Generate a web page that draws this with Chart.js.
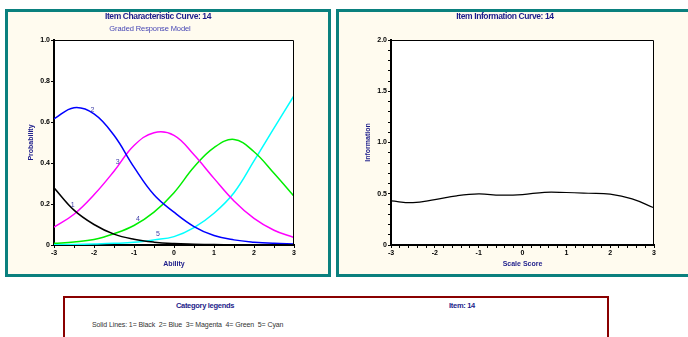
<!DOCTYPE html>
<html lang="en">
<head>
  <meta charset="UTF-8" />
  <title>Item 14 - ICC and Information</title>
  <script src="https://cdn.jsdelivr.net/npm/chart.js"></script>
  <style>
    body {
      margin: 0;
      width: 688px;
      height: 337px;
      overflow: hidden;
      background: #fff;
      font-family: 'Liberation Sans', Arial, sans-serif;
      position: relative;
    }
    .panel {
      position: absolute;
      top: 9px;
      height: 262px;
      border: 3px solid #0a807e;
      background: #fffbef;
    }
    .panel canvas {
      position: absolute;
      left: 0;
      top: 0;
    }
    .label {
      position: absolute;
      white-space: nowrap;
      transform: translate(-50%, -50%);
      line-height: 1;
    }
    .head {
      font-size: 8.5px;
      font-weight: bold;
      color: #1c1c8a;
      letter-spacing: -0.4px;
    }
    .sub {
      font-size: 7.5px;
      color: #4646b4;
      letter-spacing: -0.1px;
    }
    #legendBox {
      position: absolute;
      left: 63px;
      top: 296px;
      width: 542px;
      height: 60px;
      border: 2px solid #8a0000;
      background: #fff;
    }
    .legendHead {
      font-size: 7.5px;
      font-weight: bold;
      color: #1c1c8a;
      letter-spacing: -0.3px;
    }
    .legendText {
      font-size: 7px;
      color: #333;
      letter-spacing: -0.1px;
      transform: translate(0, -50%);
    }
  </style>
</head>
<body>

  <div class="panel" style="left:5px; width:320px;">
    <canvas id="icc" width="320" height="262"></canvas>
  </div>
  <div class="panel" style="left:336px; width:360px;">
    <canvas id="info" width="360" height="262"></canvas>
  </div>

  <div class="label head" style="left:158px; top:15.5px;">Item Characteristic Curve: 14</div>
  <div class="label sub" style="left:150px; top:28.5px;">Graded Response Model</div>
  <div class="label head" style="left:505px; top:15.5px;">Item Information Curve: 14</div>

  <div id="legendBox"></div>
  <div class="label legendHead" style="left:205px; top:305.5px;">Category legends</div>
  <div class="label legendHead" style="left:462px; top:305.5px;">Item: 14</div>
  <div class="label legendText" style="left:92px; top:324px;">Solid Lines: 1= Black&nbsp; 2= Blue&nbsp; 3= Magenta&nbsp; 4= Green&nbsp; 5= Cyan</div>

  <script>
    // theta grid shared by both plots
    const ability = [-3, -2.5, -2, -1.5, -1, -0.5, 0, 0.5, 1, 1.5, 2, 2.5, 3];

    // category response probabilities
    const cat1 = [0.279, 0.17, 0.1, 0.053, 0.028, 0.014, 0.007, 0.004, 0.002, 0.001, 0.001, 0, 0];
    const cat2 = [0.615, 0.67, 0.64, 0.535, 0.38, 0.245, 0.16, 0.09, 0.046, 0.025, 0.014, 0.008, 0.005];
    const cat3 = [0.087, 0.15, 0.245, 0.36, 0.485, 0.548, 0.535, 0.44, 0.325, 0.215, 0.13, 0.072, 0.036];
    const cat4 = [0.008, 0.015, 0.027, 0.055, 0.095, 0.16, 0.255, 0.38, 0.475, 0.515, 0.455, 0.35, 0.238];
    const cat5 = [0.002, 0.003, 0.005, 0.008, 0.013, 0.025, 0.041, 0.085, 0.155, 0.255, 0.41, 0.57, 0.728];

    // item information
    const information = [0.43, 0.413, 0.443, 0.48, 0.498, 0.486, 0.492, 0.514, 0.512, 0.505, 0.496, 0.45, 0.363];

    // where the category numbers sit on the curves (ability, probability)
    const curveTags = [
      ['1', -2.53, 0.197],
      ['2', -2.04, 0.658],
      ['3', -1.41, 0.403],
      ['4', -0.9, 0.127],
      ['5', -0.4, 0.052]
    ];

    const categories = [
      { data: cat1, color: '#000000' },
      { data: cat2, color: '#0000ff' },
      { data: cat3, color: '#ff00ff' },
      { data: cat4, color: '#00ee00' },
      { data: cat5, color: '#00ffff' }
    ];

    const toPoints = values => ability.map((x, i) => ({ x: x, y: values[i] }));
    const isWhole = v => Math.abs(v - Math.round(v)) < 1e-6;

    // white plot area plus thin top/right frame
    const plotFrame = {
      id: 'plotFrame',
      beforeDraw(chart) {
        const { ctx, chartArea: a } = chart;
        ctx.save();
        ctx.fillStyle = '#fff';
        ctx.fillRect(a.left, a.top, a.right - a.left, a.bottom - a.top);
        ctx.restore();
      },
      afterDraw(chart, args, opts) {
        const { ctx, chartArea: a } = chart;
        ctx.save();
        ctx.strokeStyle = opts.color || '#000';
        ctx.lineWidth = 1;
        ctx.beginPath();
        ctx.moveTo(a.left, a.top + 0.5);
        ctx.lineTo(a.right - 0.5, a.top + 0.5);
        ctx.lineTo(a.right - 0.5, a.bottom);
        ctx.stroke();
        ctx.restore();
      }
    };

    const tagLabels = {
      id: 'tagLabels',
      afterDatasetsDraw(chart) {
        const { ctx, scales } = chart;
        ctx.save();
        ctx.font = '7px "Liberation Sans", Arial, sans-serif';
        ctx.fillStyle = '#4040a8';
        ctx.textAlign = 'center';
        ctx.textBaseline = 'middle';
        curveTags.forEach(([t, x, y]) => {
          ctx.fillText(t, scales.x.getPixelForValue(x), scales.y.getPixelForValue(y));
        });
        ctx.restore();
      }
    };

    const tickFont = { family: '"Liberation Sans", Arial, sans-serif', size: 7, weight: 'bold' };
    const titleFont = { family: '"Liberation Sans", Arial, sans-serif', size: 7, weight: 'bold' };

    function axisBase(extra) {
      return Object.assign({
        type: 'linear',
        border: { display: true, color: '#000', width: 2 },
        grid: { drawOnChartArea: false, drawTicks: true, tickLength: 3, tickColor: '#000', tickWidth: 1 },
        ticks: { color: '#000', font: tickFont, padding: 1, autoSkip: false, maxRotation: 0 }
      }, extra);
    }

    Chart.defaults.devicePixelRatio = 1;

    new Chart(document.getElementById('icc'), {
      type: 'line',
      data: {
        datasets: categories.map((c, i) => ({
          label: String(i + 1),
          data: toPoints(c.data),
          borderColor: c.color,
          borderWidth: 1.5,
          pointRadius: 0,
          fill: false,
          tension: 0.4
        }))
      },
      options: {
        responsive: false,
        animation: false,
        layout: { padding: { left: 0, right: 34, top: 28, bottom: 0 } },
        plugins: { legend: { display: false }, tooltip: { enabled: false }, plotFrame: {} },
        scales: {
          x: axisBase({
            min: -3, max: 3,
            afterFit(s) { s.height = 29; },
            ticks: Object.assign({}, axisBase().ticks, {
              stepSize: 0.5,
              callback: v => isWhole(v) ? String(Math.round(v)) : ''
            }),
            title: { display: true, text: 'Ability', color: '#1c1c8a', font: titleFont, padding: { top: 0, bottom: 6 } }
          }),
          y: axisBase({
            min: 0, max: 1,
            afterFit(s) { s.width = 46; },
            ticks: Object.assign({}, axisBase().ticks, {
              stepSize: 0.2,
              callback: v => v === 0 ? '0' : v.toFixed(1)
            }),
            title: { display: true, text: 'Probability', color: '#1c1c8a', font: titleFont, padding: { top: 19, bottom: 0 } }
          })
        }
      },
      plugins: [plotFrame, tagLabels]
    });

    new Chart(document.getElementById('info'), {
      type: 'line',
      data: {
        datasets: [{
          label: 'Information',
          data: toPoints(information),
          borderColor: '#000',
          borderWidth: 1.2,
          pointRadius: 0,
          fill: false,
          tension: 0.4
        }]
      },
      options: {
        responsive: false,
        animation: false,
        layout: { padding: { left: 0, right: 45, top: 28, bottom: 0 } },
        plugins: { legend: { display: false }, tooltip: { enabled: false }, plotFrame: { color: '#000' } },
        scales: {
          x: axisBase({
            min: -3, max: 3,
            afterFit(s) { s.height = 29; },
            ticks: Object.assign({}, axisBase().ticks, {
              stepSize: 0.2,
              callback: v => isWhole(v) ? String(Math.round(v)) : ''
            }),
            title: { display: true, text: 'Scale Score', color: '#1c1c8a', font: titleFont, padding: { top: 0, bottom: 6 } }
          }),
          y: axisBase({
            min: 0, max: 2,
            afterFit(s) { s.width = 52; },
            ticks: Object.assign({}, axisBase().ticks, {
              stepSize: 0.1,
              callback: v => {
                const r = Math.round(v * 10);
                if (r % 5 !== 0) return '';
                return r === 0 ? '0' : (r / 10).toFixed(1);
              }
            }),
            title: { display: true, text: 'Information', color: '#1c1c8a', font: titleFont, padding: { top: 25, bottom: 0 } }
          })
        }
      },
      plugins: [plotFrame]
    });
  </script>
</body>
</html>
